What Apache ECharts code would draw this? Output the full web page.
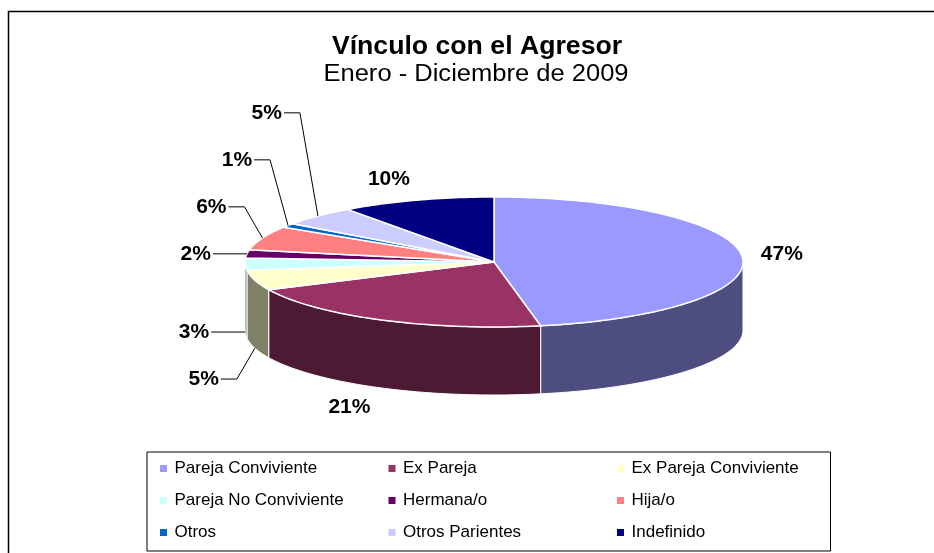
<!DOCTYPE html>
<html>
<head>
<meta http-equiv="content-type" content="text/html; charset=utf-8" />
<script src="https://cdn.jsdelivr.net/npm/echarts@6/dist/echarts.min.js"></script>
<title>Vínculo con el Agresor</title>
<style type="text/css">
	* {margin:0; padding:0;}
	body {background:#ffffff;}
	#main {width:934px; height:553px;}
</style>
</head>
<body>
<div id="main"></div>
<script>
// datos del grafico
var categorias = ['Pareja Conviviente', 'Ex Pareja', 'Ex Pareja Conviviente',
	'Pareja No Conviviente', 'Hermana/o', 'Hija/o',
	'Otros', 'Otros Parientes', 'Indefinido'];
var porcentajes = [47, 21, 5, 3, 2, 6, 1, 5, 10];
var colores = ['#9999FF', '#993366', '#FFFFCC', '#CCFFFF', '#660066', '#FF8080',
	'#0066CC', '#CCCCFF', '#000080'];
var titulo = 'Vínculo con el Agresor';
var subtitulo = 'Enero - Diciembre de 2009';

var fuente = '"Liberation Sans", Arial, sans-serif';

// geometria del pastel 3D (elipse + pared)
var cx = 494, cy = 262, rx = 249, ry = 65, fondo = 68;
var sepEtiq = 47;

var total = porcentajes.reduce(function (a, b) { return a + b; }, 0);

function oscuro(hex) {
	var c = echarts.color.parse(hex);
	return 'rgb(' + Math.round(c[0] / 2) + ',' + Math.round(c[1] / 2) + ',' + Math.round(c[2] / 2) + ')';
}
function pt(a, dy) {
	return [cx + rx * Math.sin(a), cy - ry * Math.cos(a) + (dy || 0)];
}

var rebanadas = [];
var acum = 0;
porcentajes.forEach(function (v) {
	var a0 = acum / total * 2 * Math.PI;
	acum += v;
	var a1 = acum / total * 2 * Math.PI;
	rebanadas.push({a0: a0, a1: a1, mid: (a0 + a1) / 2});
});

// posicion de etiquetas (las chicas se apilan al costado con linea guia)
var etiquetas = rebanadas.map(function (s, i) {
	var front = Math.cos(s.mid) < 0;
	return {
		i: i,
		anchor: pt(s.mid, front ? fondo : 0),
		front: front,
		small: porcentajes[i] / total < 0.07,
		side: Math.sin(s.mid) < 0 ? -1 : 1
	};
});
[-1, 1].forEach(function (side) {
	var atras = etiquetas.filter(function (l) { return l.small && l.side === side && !l.front; })
		.sort(function (a, b) { return b.anchor[1] - a.anchor[1]; });
	var prev = null;
	atras.forEach(function (l) {
		l.y = prev === null ? l.anchor[1] : Math.min(l.anchor[1], prev - sepEtiq);
		prev = l.y;
	});
	var frente = etiquetas.filter(function (l) { return l.small && l.side === side && l.front; })
		.sort(function (a, b) { return a.anchor[1] - b.anchor[1]; });
	prev = null;
	frente.forEach(function (l) {
		l.y = prev === null ? l.anchor[1] : Math.max(l.anchor[1], prev + sepEtiq);
		prev = l.y;
	});
});

function renderItem(params, api) {
	var i = params.dataIndex;
	var s = rebanadas[i];
	var hijos = [];
	var n = Math.max(2, Math.ceil((s.a1 - s.a0) / 0.02));
	var k;

	// cara superior
	var sup = [[cx, cy]];
	for (k = 0; k <= n; k++) sup.push(pt(s.a0 + (s.a1 - s.a0) * k / n));
	hijos.push({
		type: 'polygon', z2: 5,
		shape: {points: sup},
		style: {fill: colores[i], stroke: '#ffffff', lineWidth: 1.5}
	});

	// pared frontal
	var w0 = Math.max(s.a0, Math.PI / 2), w1 = Math.min(s.a1, Math.PI * 1.5);
	if (w1 > w0) {
		var m = Math.max(2, Math.ceil((w1 - w0) / 0.02));
		var arriba = [], abajo = [];
		for (k = 0; k <= m; k++) {
			var a = w0 + (w1 - w0) * k / m;
			arriba.push(pt(a));
			abajo.unshift(pt(a, fondo));
		}
		hijos.push({
			type: 'polygon', z2: 1,
			shape: {points: arriba.concat(abajo)},
			style: {fill: oscuro(colores[i]), stroke: '#ffffff', lineWidth: 1}
		});
	}

	// etiqueta de porcentaje
	var l = etiquetas[i];
	var txt = Math.round(porcentajes[i] / total * 100) + '%';
	var ax = l.anchor[0], ay = l.anchor[1];
	if (l.small) {
		var d = l.side;
		hijos.push({
			type: 'polyline', z2: 8,
			shape: {points: [[ax + d * 34, l.y], [ax + d * 18, l.y], [ax, ay]]},
			style: {stroke: '#000000', lineWidth: 1, fill: null}
		});
		hijos.push({
			type: 'text', z2: 10,
			x: ax + d * 36, y: l.y,
			style: {text: txt, fill: '#000', font: 'bold 21px ' + fuente,
				align: d < 0 ? 'right' : 'left', verticalAlign: 'middle'}
		});
	} else {
		var sn = Math.sin(s.mid), cs = Math.cos(s.mid);
		hijos.push({
			type: 'text', z2: 10,
			x: ax + (sn < 0 ? -1 : 1) * Math.pow(Math.abs(sn), 0.3) * 40,
			y: ay - cs * 22,
			style: {text: txt, fill: '#000', font: 'bold 21px ' + fuente,
				align: 'center', verticalAlign: 'middle'}
		});
	}
	return {type: 'group', children: hijos};
}

var chart = echarts.init(document.getElementById('main'));
chart.setOption({
	animation: false,
	color: colores,
	legend: {
		left: 147,
		top: 452,
		width: 700,
		padding: [8, 0, 10, 13],
		borderColor: '#000',
		borderWidth: 1,
		itemWidth: 12,
		itemHeight: 7,
		itemGap: 15,
		icon: 'path://M0,0h10v10h-10z',
		data: categorias,
		textStyle: {fontFamily: fuente, fontSize: 17, color: '#000', width: 199, lineHeight: 17}
	},
	graphic: [{
		type: 'rect',
		shape: {x: 8.5, y: 11.5, width: 1000, height: 1000},
		style: {fill: null, stroke: '#000', lineWidth: 1.5},
		silent: true
	}, {
		type: 'text',
		x: 477, y: 47, scaleX: 1.066,
		style: {text: titulo, fill: '#000', font: 'bold 25px ' + fuente,
			align: 'center', verticalAlign: 'middle'}
	}, {
		type: 'text',
		x: 476, y: 75, scaleX: 1.11,
		style: {text: subtitulo, fill: '#000', font: '23px ' + fuente,
			align: 'center', verticalAlign: 'middle'}
	}],
	series: [
		{
			// solo para la leyenda
			type: 'pie',
			name: 'leyenda',
			center: [-100, -100],
			radius: 1,
			silent: true,
			label: {show: false},
			labelLine: {show: false},
			data: categorias.map(function (c, i) { return {name: c, value: porcentajes[i]}; })
		},
		{
			type: 'custom',
			name: 'Vínculo',
			coordinateSystem: 'none',
			renderItem: renderItem,
			data: porcentajes.map(function (v, i) { return {name: categorias[i], value: v}; })
		}
	]
});
</script>
</body>
</html>
